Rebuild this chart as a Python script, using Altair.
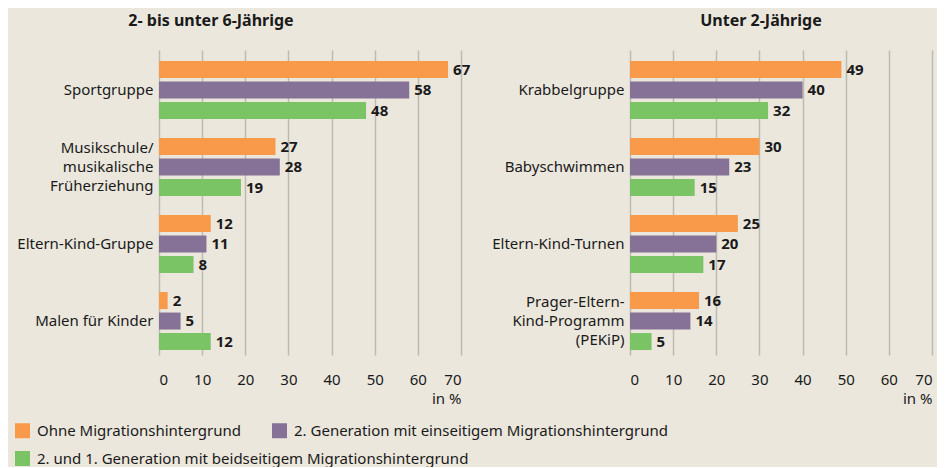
import altair as alt
import pandas as pd

series = ["Ohne Migrationshintergrund",
          "2. Generation mit einseitigem Migrationshintergrund",
          "2. und 1. Generation mit beidseitigem Migrationshintergrund"]
colors = ["#f89a4a", "#857296", "#7bc466"]

left_title = "2- bis unter 6-Jährige"
left_cats = ["Sportgruppe", "Musikschule/|musikalische|Früherziehung",
             "Eltern-Kind-Gruppe", "Malen für Kinder"]
left_ohne = [67, 27, 12, 2]
left_ein = [58, 28, 11, 5]
left_beid = [48, 19, 8, 12]

right_title = "Unter 2-Jährige"
right_cats = ["Krabbelgruppe", "Babyschwimmen", "Eltern-Kind-Turnen",
              "Prager-Eltern-|Kind-Programm|(PEKiP)"]
right_ohne = [49, 30, 25, 16]
right_ein = [40, 23, 20, 14]
right_beid = [32, 15, 17, 5]

x_ticks = [0, 10, 20, 30, 40, 50, 60, 70]

FONT = "Noto Sans"
BG = "#ebe7dd"
TXT = "#1a1a1a"


def make_df(cats, a, b, c):
    rows = []
    for i, cat in enumerate(cats):
        for s, vals in zip(series, [a, b, c]):
            rows.append({"cat": cat, "series": s, "series3": s, "value": vals[i]})
    return pd.DataFrame(rows)


def legend(y):
    return alt.Legend(title=None, orient="none", direction="horizontal",
                      legendX=-144, legendY=y,
                      symbolType="square", symbolSize=225, symbolStrokeWidth=0,
                      labelFont=FONT, labelFontSize=15, labelColor=TXT,
                      labelOffset=7, columnPadding=31, labelLimit=700)


def panel(cats, a, b, c, title, dx):
    df = make_df(cats, a, b, c)
    base = alt.Chart(df).encode(
        y=alt.Y("cat:N", sort=cats, title=None,
                scale=alt.Scale(paddingInner=0.247, paddingOuter=0.104, align=0.69),
                axis=alt.Axis(labelExpr="split(datum.label, '|')",
                              labelFont=FONT, labelFontSize=15, labelColor=TXT,
                              labelLineHeight=19, labelPadding=6,
                              labelOffset={"condition": {"test": "indexof(datum.label, '|') >= 0",
                                                         "value": -19},
                                           "value": 0},
                              ticks=False, domain=False, grid=False,
                              minExtent=146, maxExtent=146, labelLimit=200)),
        yOffset=alt.YOffset("series:N", sort=series,
                            scale=alt.Scale(domain=series, paddingInner=0.17, paddingOuter=0)),
        x=alt.X("value:Q", title="in %",
                scale=alt.Scale(domain=[0, 70], nice=False),
                axis=alt.Axis(values=x_ticks, ticks=False, domain=False,
                              grid=True, gridColor="#bdbab3", gridWidth=1.5,
                              labelFont=FONT, labelFontSize=15, labelColor=TXT,
                              labelPadding=17,
                              titleFont=FONT, titleFontSize=15, titleFontWeight="normal",
                              titleColor=TXT, titleAnchor="end", titlePadding=4)),
    )
    bars12 = base.transform_filter(
        alt.FieldOneOfPredicate(field="series", oneOf=series[:2])
    ).mark_bar().encode(
        color=alt.Color("series:N", sort=series[:2],
                        scale=alt.Scale(domain=series[:2], range=colors[:2]),
                        legend=legend(373))
    )
    bars3 = base.transform_filter(
        alt.FieldEqualPredicate(field="series", equal=series[2])
    ).mark_bar().encode(
        fill=alt.Fill("series3:N",
                      scale=alt.Scale(domain=series[2:], range=colors[2:]),
                      legend=legend(401))
    )
    labels = base.mark_text(align="left", baseline="middle", dx=5,
                            font=FONT, fontSize=15, fontWeight="bold",
                            color=TXT).encode(text="value:Q")
    return alt.layer(bars12, bars3, labels).properties(
        width=302, height=305,
        title=alt.TitleParams(title, font=FONT, fontSize=16, fontWeight="bold",
                              color=TXT, anchor="middle", dx=dx, offset=21))


left = panel(left_cats, left_ohne, left_ein, left_beid, left_title, -99)
right = panel(right_cats, right_ohne, right_ein, right_beid, right_title, -20)

chart = alt.hconcat(left, right, spacing=13).properties(
    background=BG,
    padding={"left": 5, "top": 5, "right": 5, "bottom": 0}
).configure_view(stroke=None)

chart.save("out.html", embed_options={"renderer": "svg", "actions": False})
